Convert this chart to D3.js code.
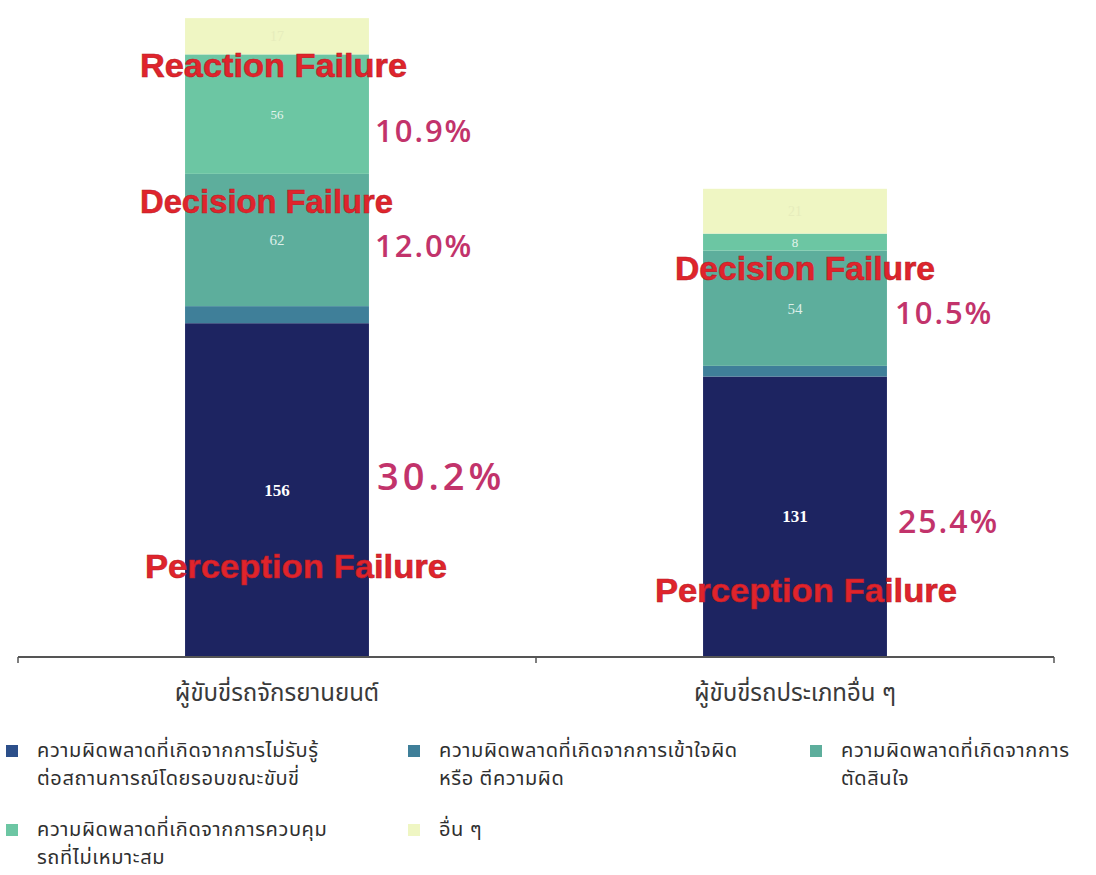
<!DOCTYPE html>
<html>
<head>
<meta charset="utf-8">
<script src="https://cdn.jsdelivr.net/npm/d3@7"></script>
<style>
  body { margin: 0; background: #fff; }
  svg { display: block; }
  .thai { font-family: "Noto Sans Thai", "Noto Sans", "DejaVu Sans", sans-serif; }
</style>
</head>
<body>
<svg width="1096" height="875"></svg>
<script>
// categories (bars)
const categories = ["ผู้ขับขี่รถจักรยานยนต์", "ผู้ขับขี่รถประเภทอื่น ๆ"];

// series, bottom to top
const seriesNames = [
    "ความผิดพลาดที่เกิดจากการไม่รับรู้ต่อสถานการณ์โดยรอบขณะขับขี่",
    "ความผิดพลาดที่เกิดจากการเข้าใจผิด หรือ ตีความผิด",
    "ความผิดพลาดที่เกิดจากการตัดสินใจ",
    "ความผิดพลาดที่เกิดจากการควบคุมรถที่ไม่เหมาะสม",
    "อื่น ๆ"
];
const perception    = [156, 131];
const misunderstand = [8, 5];
const decision      = [62, 54];
const reaction      = [56, 8];
const others        = [17, 21];

// legend text, as wrapped in the picture
const legendLines = [
    ["ความผิดพลาดที่เกิดจากการไม่รับรู้", "ต่อสถานการณ์โดยรอบขณะขับขี่"],
    ["ความผิดพลาดที่เกิดจากการเข้าใจผิด", "หรือ ตีความผิด"],
    ["ความผิดพลาดที่เกิดจากการ", "ตัดสินใจ"],
    ["ความผิดพลาดที่เกิดจากการควบคุม", "รถที่ไม่เหมาะสม"],
    ["อื่น ๆ"]
];

// annotation texts per bar
const failureLabels = [
    ["Reaction Failure", "Decision Failure", "Perception Failure"],
    ["Decision Failure", "Perception Failure"]
];
const percentLabels = [
    ["10.9%", "12.0%", "30.2%"],
    ["10.5%", "25.4%"]
];

const colors = ["#1d2461", "#3f7f99", "#5dae9c", "#6cc6a3", "#eff6c3"];

let svg = d3.select("svg");

let rows = categories.map((c, i) => ({
    cat: c,
    s0: perception[i], s1: misunderstand[i], s2: decision[i], s3: reaction[i], s4: others[i]
}));
let keys = ["s0", "s1", "s2", "s3", "s4"];
let stacked = d3.stack().keys(keys)(rows);

let x = d3.scaleBand()
    .domain(categories)
    .range([18, 1054])
    .paddingInner(0.645)
    .paddingOuter(0.3225);

let y = d3.scaleLinear()
    .domain([0, 300])
    .range([656, 16]);

// bars
let layers = svg.append("g")
    .selectAll("g")
    .data(stacked)
    .join("g")
    .attr("fill", (d, i) => colors[i]);

layers.selectAll("rect")
    .data(d => d)
    .join("rect")
    .attr("x", d => x(d.data.cat))
    .attr("width", x.bandwidth())
    .attr("y", d => y(d[1]))
    .attr("height", d => y(d[0]) - y(d[1]));

// value labels (in-bar)
let labelStyle = [
    {fill: "#ffffff", weight: "bold", size: 17, show: true},
    {show: false},
    {fill: "#dcefe9", weight: "normal", size: 15, show: true},
    {fill: "#e3f4ec", weight: "normal", size: 13, show: true},
    {fill: "#e6ecbc", weight: "normal", size: 14, show: true}
];
layers.each(function(layer, i) {
    let st = labelStyle[i];
    if (!st.show) return;
    d3.select(this).selectAll("text")
        .data(layer)
        .join("text")
        .attr("x", d => x(d.data.cat) + x.bandwidth() / 2)
        .attr("y", d => (y(d[0]) + y(d[1])) / 2)
        .attr("dy", "0.35em")
        .attr("text-anchor", "middle")
        .attr("font-family", "'Liberation Serif', 'DejaVu Serif', serif")
        .attr("font-size", st.size)
        .attr("font-weight", st.weight)
        .attr("fill", st.fill)
        .text(d => d[1] - d[0]);
});

// axis line with ticks at band edges
let axisY = 657;
let edges = [0, 1, 2].map(i => x.range()[0] + i * x.step());
let axisG = svg.append("g");
axisG.append("line")
    .attr("x1", edges[0]).attr("x2", edges[2])
    .attr("y1", axisY).attr("y2", axisY)
    .attr("stroke", "#555").attr("stroke-width", 2);
axisG.selectAll(".tick")
    .data(edges)
    .join("line")
    .attr("x1", d => d).attr("x2", d => d)
    .attr("y1", axisY).attr("y2", axisY + 6)
    .attr("stroke", "#555").attr("stroke-width", 1.5);

axisG.selectAll(".cat")
    .data(categories)
    .join("text")
    .attr("class", "thai")
    .attr("x", d => x(d) + x.bandwidth() / 2)
    .attr("y", 701)
    .attr("text-anchor", "middle")
    .attr("font-size", 24)
    .attr("fill", "#3a3a3a")
    .text(d => d);

// annotations: failure names (red) and shares (crimson)
let failurePos = [
    [{dx: -137, y: 77, w: 267}, {dx: -137, y: 213, w: 253}, {dx: -132, y: 578, w: 302}],
    [{dx: -120, y: 280, w: 260}, {dx: -140, y: 602, w: 302}]
];
let percentPos = [
    [{dx: 6, y: 142, size: 31, ls: 2}, {dx: 6, y: 257, size: 31, ls: 2}, {dx: 8, y: 490, size: 38, ls: 4}],
    [{dx: 8, y: 324, size: 31, ls: 2}, {dx: 11, y: 533, size: 32, ls: 2}]
];

let ann = svg.append("g");
categories.forEach((c, i) => {
    let cx = x(c) + x.bandwidth() / 2;
    failureLabels[i].forEach((t, j) => {
        let p = failurePos[i][j];
        ann.append("text")
            .attr("x", cx + p.dx)
            .attr("y", p.y)
            .attr("font-family", "'Liberation Sans', Arial, sans-serif")
            .attr("font-weight", "bold")
            .attr("font-size", 34)
            .attr("textLength", p.w)
            .attr("lengthAdjust", "spacingAndGlyphs")
            .attr("fill", "#e0242c")
            .attr("stroke", "#b81c25")
            .attr("stroke-width", 0.6)
            .text(t);
    });
    percentLabels[i].forEach((t, j) => {
        let p = percentPos[i][j];
        ann.append("text")
            .attr("x", x(c) + x.bandwidth() + p.dx)
            .attr("y", p.y)
            .attr("font-family", "'Open Sans', 'Noto Sans', sans-serif")
            .attr("font-weight", 600)
            .attr("font-size", p.size)
            .attr("letter-spacing", p.ls)
            .attr("fill", "#c2336b")
            .text(t);
    });
});

// legend
let legendPos = [
    {x: 6, y: 755}, {x: 408, y: 755}, {x: 810, y: 755},
    {x: 6, y: 834}, {x: 408, y: 834}
];
let legend = svg.append("g")
    .selectAll("g")
    .data(seriesNames)
    .join("g")
    .attr("transform", (d, i) => `translate(${legendPos[i].x},${legendPos[i].y})`);

legend.append("rect")
    .attr("x", 0).attr("y", -10)
    .attr("width", 12).attr("height", 12)
    .attr("fill", (d, i) => i === 0 ? "#2c4f8a" : colors[i]);

legend.append("text")
    .attr("class", "thai")
    .attr("x", 31)
    .attr("font-size", 20)
    .attr("letter-spacing", 0.6)
    .attr("fill", "#2f2f2f")
    .selectAll("tspan")
    .data((d, i) => legendLines[i])
    .join("tspan")
    .attr("x", 31)
    .attr("y", (d, k) => 2 + k * 28)
    .text(d => d);
</script>
</body>
</html>
